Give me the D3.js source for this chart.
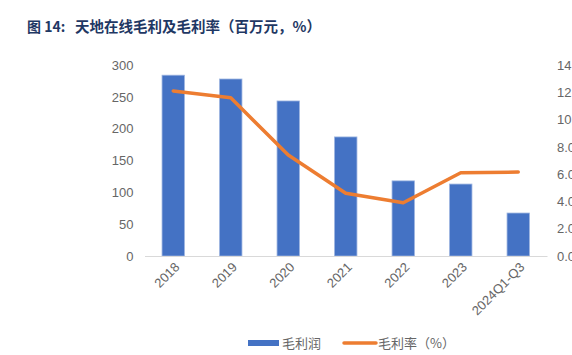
<!DOCTYPE html>
<html><head><meta charset="utf-8">
<script src="https://cdn.jsdelivr.net/npm/d3@7"></script>
<style>
html,body{margin:0;padding:0;background:#fff;overflow:hidden;}
svg{display:block;}
</style></head>
<body>
<svg id="chart" width="572" height="355"></svg>
<script>
const categories = ["2018","2019","2020","2021","2022","2023","2024Q1-Q3"];
const grossProfit = [284, 278, 243.5, 187, 118, 113, 67.5];
const grossMargin = [12.1, 11.6, 7.4, 4.6, 3.9, 6.1, 6.15];
const leftTicks = [0,50,100,150,200,250,300];
const rightTicks = [0,2,4,6,8,10,12,14];
const titleLead = "图 14:";
const titleMain = "天地在线毛利及毛利率（百万元，%）";
const legendLabels = ["毛利润","毛利率（%）"];

const svg = d3.select("#chart");
const font = "'Noto Sans CJK SC','Noto Sans',sans-serif";
const x0 = 144.5, x1 = 547, yTop = 65, yBot = 256;

const x = d3.scaleBand().domain(categories).range([x0, x1]).paddingInner(0.61).paddingOuter(0.305);
const yL = d3.scaleLinear().domain([0,300]).range([yBot, yTop]);
const yR = d3.scaleLinear().domain([0,14]).range([yBot, yTop]);

svg.append("text").attr("x",27).attr("y",32).attr("font-family",font).attr("font-weight","bold")
  .attr("font-size",14).attr("fill","#1F3864").text(titleLead);
svg.append("text").attr("x",75).attr("y",32).attr("font-family",font).attr("font-weight","bold")
  .attr("font-size",14.5).attr("fill","#1F3864").text(titleMain);

// left axis
const gl = svg.append("g").attr("transform",`translate(${x0},0)`)
  .call(d3.axisLeft(yL).tickValues(leftTicks).tickSize(0).tickPadding(11));
gl.select(".domain").remove();
gl.selectAll("text").attr("font-family","'Liberation Sans',Arial,sans-serif").attr("font-size",13).attr("fill","#666");

// right axis
const gr = svg.append("g").attr("transform",`translate(${x1},0)`)
  .call(d3.axisRight(yR).tickValues(rightTicks).tickSize(0).tickPadding(10).tickFormat(d=>d.toFixed(1)+"%"));
gr.select(".domain").remove();
gr.selectAll("text").attr("font-family","'Liberation Sans',Arial,sans-serif").attr("font-size",13).attr("fill","#666");

// bars
svg.append("g").selectAll("rect").data(categories).join("rect")
  .attr("x",d=>x(d)).attr("width",x.bandwidth())
  .attr("y",(d,i)=>yL(grossProfit[i])).attr("height",(d,i)=>yBot-yL(grossProfit[i]))
  .attr("fill","#4472C4").attr("stroke","#9DB5E0").attr("stroke-width",0.8);

// x axis
const gx = svg.append("g").attr("transform",`translate(0,${yBot})`)
  .call(d3.axisBottom(x).tickSize(0).tickPadding(0));
gx.select(".domain").attr("stroke","#D9D9D9").attr("stroke-width",1.2);
gx.selectAll("text").attr("font-family","'Liberation Sans',Arial,sans-serif").attr("font-size",13).attr("fill","#666")
  .attr("text-anchor","end").attr("dy",0)
  .attr("transform","translate(7,12) rotate(-45)");

// line
const line = d3.line().x((d,i)=>x(categories[i])+x.bandwidth()/2).y(d=>yR(d));
svg.append("path").datum(grossMargin).attr("d",line).attr("fill","none")
  .attr("stroke","#ED7D31").attr("stroke-width",3.5).attr("stroke-linejoin","round").attr("stroke-linecap","round");

// legend
const lg = svg.append("g");
lg.append("rect").attr("x",248).attr("y",340).attr("width",31).attr("height",6).attr("fill","#4472C4");
lg.append("text").attr("x",282).attr("y",348).attr("font-family",font).attr("font-size",13).attr("fill","#666").text(legendLabels[0]);
lg.append("line").attr("x1",344).attr("x2",376).attr("y1",343).attr("y2",343).attr("stroke","#ED7D31").attr("stroke-width",3.5).attr("stroke-linecap","round");
lg.append("text").attr("x",378).attr("y",348).attr("font-family",font).attr("font-size",13).attr("fill","#666").text(legendLabels[1]);
</script>
</body></html>
